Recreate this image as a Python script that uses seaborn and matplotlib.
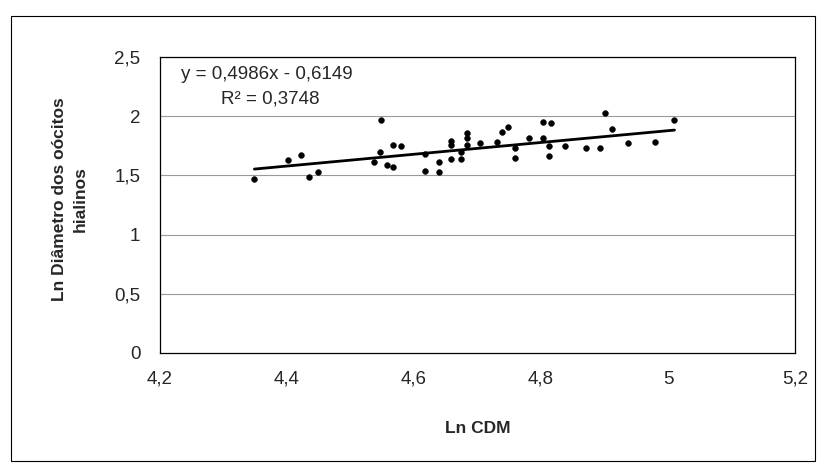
import numpy as np
import pandas as pd
import matplotlib
matplotlib.use("Agg")
import matplotlib.pyplot as plt
import seaborn as sns
from matplotlib.ticker import FuncFormatter
from matplotlib.patches import Rectangle

# Data
ln_cdm = [4.349, 4.402, 4.423, 4.435, 4.449, 4.537, 4.546, 4.548, 4.557, 4.567,
          4.567, 4.579, 4.617, 4.618, 4.639, 4.639, 4.659, 4.659, 4.659, 4.674,
          4.674, 4.683, 4.683, 4.683, 4.704, 4.730, 4.739, 4.748, 4.759, 4.759,
          4.781, 4.803, 4.803, 4.815, 4.812, 4.812, 4.838, 4.871, 4.892, 4.900,
          4.912, 4.937, 4.980, 5.010]
ln_diam = [1.47, 1.63, 1.67, 1.49, 1.53, 1.61, 1.70, 1.97, 1.59, 1.57,
           1.76, 1.75, 1.68, 1.54, 1.61, 1.53, 1.79, 1.755, 1.64, 1.70,
           1.64, 1.86, 1.82, 1.76, 1.77, 1.78, 1.87, 1.91, 1.73, 1.65,
           1.82, 1.82, 1.95, 1.94, 1.75, 1.66, 1.75, 1.735, 1.735, 2.03,
           1.89, 1.77, 1.78, 1.97]

# Trend line from the printed equation
slope = 0.4986
intercept = -0.6149
r2 = 0.3748

x_ticks = [4.2, 4.4, 4.6, 4.8, 5.0, 5.2]
y_ticks = [0, 0.5, 1, 1.5, 2, 2.5]


def comma(v):
    return ("%g" % v).replace(".", ",")


df = pd.DataFrame({"x": ln_cdm, "y": ln_diam})
line_x = np.array([min(ln_cdm), max(ln_cdm)])
trend = pd.DataFrame({"x": line_x, "y": slope * line_x + intercept})

sns.set_style("white")
plt.rcParams["font.family"] = ["Liberation Sans", "DejaVu Sans"]

fig = plt.figure(figsize=(8.19, 4.68), dpi=100)
ax = fig.add_axes([0.195, 0.246, 0.776, 0.632])

# horizontal gridlines
for yv in y_ticks[1:]:
    ax.axhline(yv, color="#9a9a9a", linewidth=0.8, zorder=0)

sns.lineplot(data=trend, x="x", y="y", color="black", linewidth=2.0, ax=ax, zorder=2)
sns.scatterplot(data=df, x="x", y="y", color="black", s=18, edgecolor="black",
                linewidth=0.3, ax=ax, zorder=3)

ax.set_xlim(4.2, 5.2)
ax.set_ylim(0, 2.5)
ax.set_xticks(x_ticks)
ax.set_yticks(y_ticks)

fmt = FuncFormatter(lambda v, p: comma(v))
ax.xaxis.set_major_formatter(fmt)
ax.yaxis.set_major_formatter(fmt)
ax.tick_params(axis="both", direction="inout", length=6, width=0.8,
               labelsize=13.5, color="black")
ax.tick_params(axis="x", pad=10)
ax.tick_params(axis="y", pad=11)

for s in ax.spines.values():
    s.set_color("black")
    s.set_linewidth(0.9)

ax.set_xlabel("Ln CDM", fontsize=12.5, fontweight="bold")
ax.set_ylabel("Ln Diâmetro dos oócitos\nhialinos", fontsize=12.5,
              fontweight="bold", linespacing=1.45)
ax.xaxis.set_label_coords(0.5, -0.232)
ax.yaxis.set_label_coords(-0.113, 0.52)

ax.text(4.233, 2.35, "y = %sx - %s" % (comma(slope), comma(-intercept)),
        fontsize=13.5, va="center", ha="left")
ax.text(4.297, 2.15, "R² = %s" % comma(r2), fontsize=13.5, va="center", ha="left")

# outer chart frame
fig.patches.append(Rectangle((0.013, 0.015), 0.982, 0.950, transform=fig.transFigure,
                             fill=False, edgecolor="black", linewidth=0.8))

fig.savefig("out.png", dpi=100, facecolor="white")
